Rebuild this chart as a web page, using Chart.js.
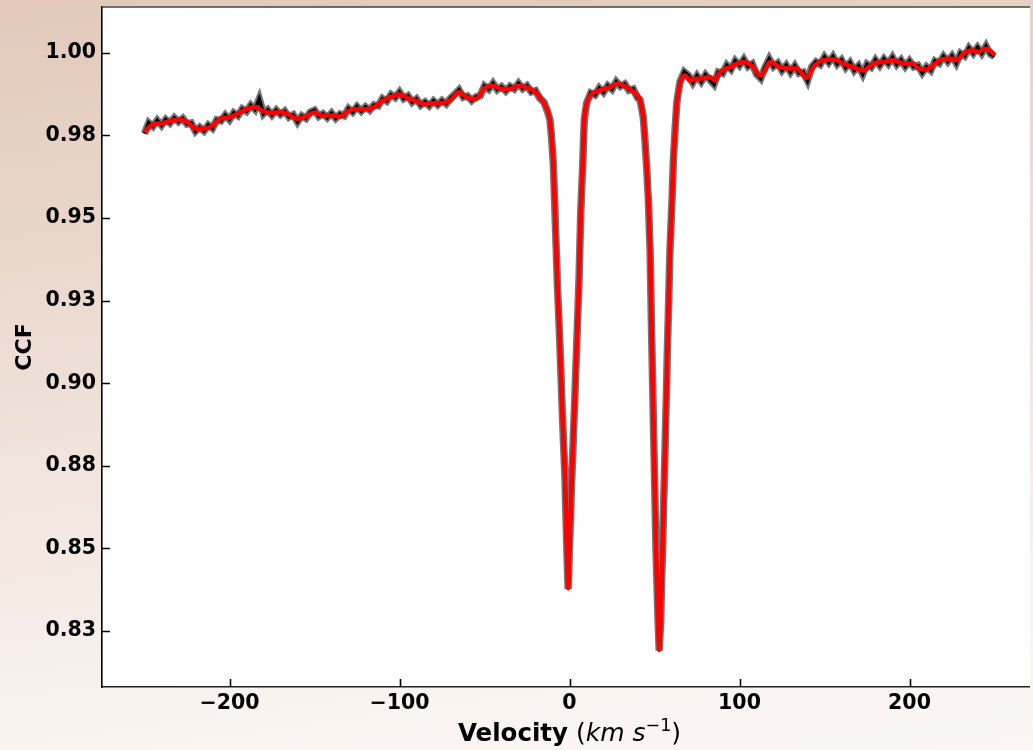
<!DOCTYPE html>
<html>
<head>
<meta charset="utf-8">
<script src="https://cdn.jsdelivr.net/npm/chart.js@4.4.1/dist/chart.umd.min.js"></script>
<style>
	html, body {
		margin: 0;
		padding: 0;
		width: 1033px;
		height: 750px;
		overflow: hidden;
		background: linear-gradient(172deg, #e2c9ba 0%, #ead8cd 30%, #f3e8e1 60%, #faf4f1 85%, #fbf7f5 100%);
	}
	#wrap {
		position: absolute;
		left: 0;
		top: 0;
		width: 1030px;
		height: 750px;
		overflow: hidden;
	}
</style>
</head>
<body>
<div id="wrap"><canvas id="ccf" width="1040" height="750"></canvas></div>
<script>
	'use strict';

	// Axis ticks
	var xTicks = [-200, -100, 0, 100, 200];
	var yTicks = [0.825, 0.85, 0.875, 0.9, 0.925, 0.95, 0.975, 1.0];
	var yTickLabels = ['0.83', '0.85', '0.88', '0.90', '0.93', '0.95', '0.98', '1.00'];

	// Smoothed CCF (red)
	var fitVelocity = [
		-250, -245, -240, -235, -230, -225, -220, -215, -210, -205,
		-200, -195, -190, -185, -180, -175, -170, -165, -160, -155,
		-150, -145, -140, -135, -130, -125, -120, -115, -110, -105,
		-100, -95, -90, -85, -80, -75, -70, -65, -60, -55,
		-50, -45, -40, -35, -30, -25, -20, -17.5, -15, -13,
		-11.5, -10.5, -9.5, -8.5, -7.2, -5.6, -4.2, -2.6, -1.6, -0.8,
		0.0, 1.3, 2.8, 4.2, 5.6, 6.6, 7.8, 8.7, 10.1, 13.1,
		17.9, 23.8, 27.8, 33.6, 37.5, 41.5, 43.4, 44.4, 45.4, 46.4,
		47.4, 48.5, 49.7, 50.9, 52.1, 52.8, 53.6, 54.7, 56.2, 57.6,
		59.1, 60.3, 61.1, 62.1, 63.1, 65.0, 67.9, 70.9, 73.8, 76.8,
		82.6, 85.6, 88.5, 94.4, 98.4, 103.2, 108.1, 112.1, 115.0, 117.9,
		123.8, 129.7, 133.6, 139.5, 143.4, 149.3, 155.2, 161.1, 166.9, 172.8,
		178.7, 184.6, 190.5, 196.4, 202.2, 205.2, 210.1, 214.0, 217.9, 223.8,
		227.8, 231.6, 237.5, 240.5, 244.4, 248.4, 250.0
	];
	var fitCCF = [
		0.9760, 0.9783, 0.9786, 0.9793, 0.9797, 0.9791, 0.9770, 0.9770, 0.9779, 0.9801,
		0.9804, 0.9816, 0.9829, 0.9836, 0.9822, 0.9818, 0.9820, 0.9812, 0.9800, 0.9807,
		0.9819, 0.9809, 0.9810, 0.9807, 0.9824, 0.9829, 0.9829, 0.9835, 0.9854, 0.9866,
		0.9874, 0.9862, 0.9853, 0.9844, 0.9847, 0.9848, 0.9856, 0.9880, 0.9863, 0.9860,
		0.9892, 0.9900, 0.9890, 0.9891, 0.9900, 0.9894, 0.9880, 0.9866, 0.9847, 0.9825,
		0.9795, 0.9740, 0.9664, 0.9514, 0.9311, 0.9110, 0.8909, 0.8707, 0.8505, 0.8380,
		0.8505, 0.8707, 0.8909, 0.9110, 0.9311, 0.9514, 0.9664, 0.9795, 0.9845, 0.9875,
		0.9886, 0.9896, 0.9906, 0.9896, 0.9881, 0.9856, 0.9805, 0.9735, 0.9654, 0.9553,
		0.9402, 0.9100, 0.8797, 0.8495, 0.8283, 0.8193, 0.8283, 0.8495, 0.8797, 0.9100,
		0.9402, 0.9553, 0.9674, 0.9765, 0.9846, 0.9906, 0.9931, 0.9915, 0.9921, 0.9921,
		0.9926, 0.9916, 0.9941, 0.9956, 0.9967, 0.9972, 0.9956, 0.9931, 0.9946, 0.9972,
		0.9956, 0.9952, 0.9952, 0.9924, 0.9956, 0.9977, 0.9979, 0.9967, 0.9956, 0.9946,
		0.9967, 0.9972, 0.9977, 0.9967, 0.9967, 0.9952, 0.9949, 0.9962, 0.9977, 0.9982,
		0.9977, 0.9997, 1.0007, 1.0002, 1.0012, 1.0002, 0.9992
	];

	// Raw CCF (black, noisy)
	var rawVelocity = [
		-250, -247.5, -245, -242.5, -240, -237.5, -235, -232.5, -230, -227.5,
		-225, -222.5, -220, -217.5, -215, -212.5, -210, -207.5, -205, -202.5,
		-200, -197.5, -195, -192.5, -190, -187.5, -185, -182.5, -180, -177.5,
		-175, -172.5, -170, -167.5, -165, -162.5, -160, -157.5, -155, -152.5,
		-150, -147.5, -145, -142.5, -140, -137.5, -135, -132.5, -130, -127.5,
		-125, -122.5, -120, -117.5, -115, -112.5, -110, -107.5, -105, -102.5,
		-100, -97.5, -95, -92.5, -90, -87.5, -85, -82.5, -80, -77.5,
		-75, -72.5, -70, -67.5, -65, -62.5, -60, -57.5, -55, -52.5,
		-50, -47.5, -45, -42.5, -40, -37.5, -35, -32.5, -30, -27.5,
		-25, -22.5, -20, -17.5, -15, -13, -11.5, -10.5, -9.5, -8.5,
		-7.2, -5.6, -4.2, -2.6, -1.6, -0.8, 0.0, 1.3, 2.8, 4.2,
		5.6, 6.6, 7.8, 8.7, 10.1, 12.5, 15, 17.5, 20, 22.5,
		25, 27.5, 30, 32.5, 35, 37.5, 40, 41.5, 43.4, 44.4,
		45.4, 46.4, 47.4, 48.5, 49.7, 50.9, 52.1, 52.8, 53.6, 54.7,
		56.2, 57.6, 59.1, 60.3, 61.1, 62.1, 63.1, 65, 67.5, 70,
		72.5, 75, 77.5, 80, 82.5, 85, 87.5, 90, 92.5, 95,
		97.5, 100, 102.5, 105, 107.5, 110, 112.5, 115, 117.5, 120,
		122.5, 125, 127.5, 130, 132.5, 135, 137.5, 140, 142.5, 145,
		147.5, 150, 152.5, 155, 157.5, 160, 162.5, 165, 167.5, 170,
		172.5, 175, 177.5, 180, 182.5, 185, 187.5, 190, 192.5, 195,
		197.5, 200, 202.5, 205, 207.5, 210, 212.5, 215, 217.5, 220,
		222.5, 225, 227.5, 230, 232.5, 235, 237.5, 240, 242.5, 245,
		247.5, 250
	];
	var rawCCF = [
		0.9755, 0.9788, 0.9777, 0.9795, 0.9780, 0.9798, 0.9787, 0.9803, 0.9791, 0.9801,
		0.9784, 0.9787, 0.9762, 0.9774, 0.9763, 0.9781, 0.9771, 0.9797, 0.9794, 0.9811,
		0.9797, 0.9818, 0.9809, 0.9830, 0.9822, 0.9841, 0.9828, 0.9860, 0.9815, 0.9827,
		0.9811, 0.9826, 0.9813, 0.9823, 0.9805, 0.9812, 0.9790, 0.9809, 0.9801, 0.9820,
		0.9826, 0.9807, 0.9815, 0.9803, 0.9817, 0.9801, 0.9814, 0.9809, 0.9831, 0.9820,
		0.9837, 0.9823, 0.9836, 0.9826, 0.9842, 0.9839, 0.9861, 0.9853, 0.9873, 0.9864,
		0.9881, 0.9861, 0.9869, 0.9850, 0.9860, 0.9841, 0.9851, 0.9839, 0.9854, 0.9842,
		0.9855, 0.9845, 0.9862, 0.9874, 0.9887, 0.9865, 0.9869, 0.9855, 0.9866, 0.9870,
		0.9899, 0.9889, 0.9907, 0.9888, 0.9897, 0.9884, 0.9898, 0.9890, 0.9907, 0.9891,
		0.9900, 0.9881, 0.9885, 0.9862, 0.9850, 0.9823, 0.9797, 0.9741, 0.9664, 0.9514,
		0.9311, 0.9110, 0.8909, 0.8707, 0.8505, 0.8378, 0.8505, 0.8707, 0.8909, 0.9110,
		0.9311, 0.9514, 0.9664, 0.9797, 0.9848, 0.9878, 0.9872, 0.9893, 0.9880, 0.9900,
		0.9889, 0.9912, 0.9898, 0.9905, 0.9886, 0.9890, 0.9864, 0.9857, 0.9805, 0.9735,
		0.9654, 0.9553, 0.9402, 0.9100, 0.8797, 0.8495, 0.8283, 0.8191, 0.8283, 0.8495,
		0.8797, 0.9100, 0.9402, 0.9553, 0.9674, 0.9765, 0.9848, 0.9912, 0.9942, 0.9931,
		0.9909, 0.9930, 0.9912, 0.9933, 0.9918, 0.9904, 0.9941, 0.9937, 0.9962, 0.9949,
		0.9975, 0.9961, 0.9980, 0.9958, 0.9966, 0.9935, 0.9922, 0.9955, 0.9981, 0.9958,
		0.9968, 0.9946, 0.9962, 0.9941, 0.9960, 0.9938, 0.9941, 0.9915, 0.9957, 0.9972,
		0.9964, 0.9987, 0.9970, 0.9988, 0.9965, 0.9978, 0.9955, 0.9970, 0.9946, 0.9960,
		0.9935, 0.9965, 0.9956, 0.9978, 0.9961, 0.9981, 0.9966, 0.9986, 0.9964, 0.9978,
		0.9958, 0.9975, 0.9957, 0.9961, 0.9939, 0.9957, 0.9946, 0.9975, 0.9968, 0.9989,
		0.9973, 0.9990, 0.9968, 0.9998, 0.9990, 1.0014, 0.9998, 1.0016, 0.9998, 1.0020,
		0.9996, 0.9988
	];

	function toPoints(xs, ys) {
		return xs.map(function (x, i) {
			return {x: x, y: ys[i]};
		});
	}

	var FONT = "'DejaVu Sans', 'Liberation Sans', sans-serif";

	// Figure frame: white axes face, inward ticks, top spine, axis titles
	var framePlugin = {
		id: 'frame',
		beforeDraw: function (chart) {
			var ctx = chart.ctx,
				a = chart.chartArea;
			ctx.save();
			ctx.fillStyle = '#ffffff';
			ctx.fillRect(a.left, a.top, a.right - a.left, a.bottom - a.top);
			ctx.restore();
		},
		afterDraw: function (chart) {
			var ctx = chart.ctx,
				a = chart.chartArea,
				xs = chart.scales.x,
				ys = chart.scales.y;

			ctx.save();
			ctx.strokeStyle = '#444';
			ctx.lineWidth = 1.5;
			ctx.beginPath();
			ctx.moveTo(a.left, a.top);
			ctx.lineTo(a.right, a.top);
			ctx.stroke();

			ctx.strokeStyle = '#000';
			ctx.lineWidth = 1.6;
			ctx.beginPath();
			xTicks.forEach(function (v) {
				var px = Math.round(xs.getPixelForValue(v)) + 0.5;
				ctx.moveTo(px, a.bottom);
				ctx.lineTo(px, a.bottom - 8);
			});
			yTicks.forEach(function (v) {
				var py = Math.round(ys.getPixelForValue(v)) + 0.5;
				ctx.moveTo(a.left, py);
				ctx.lineTo(a.left + 8, py);
			});
			ctx.stroke();

			// y title
			ctx.fillStyle = '#000';
			ctx.font = 'bold 22px ' + FONT;
			ctx.textAlign = 'center';
			ctx.textBaseline = 'middle';
			ctx.translate(25, (a.top + a.bottom) / 2);
			ctx.rotate(-Math.PI / 2);
			ctx.fillText('CCF', 0, 0);
			ctx.setTransform(1, 0, 0, 1, 0, 0);

			// x title with mixed styles
			var parts = [
				{t: 'Velocity', f: 'bold 24.5px ' + FONT, dy: 0},
				{t: ' (', f: '25px ' + FONT, dy: 0},
				{t: 'km', f: 'italic 25px ' + FONT, dy: 0},
				{t: ' ', f: '25px ' + FONT, dy: 0},
				{t: 's', f: 'italic 25px ' + FONT, dy: 0},
				{t: '\u22121', f: '17.5px ' + FONT, dy: -10},
				{t: ')', f: '25px ' + FONT, dy: 0}
			], total = 0, cx;

			ctx.textAlign = 'left';
			ctx.textBaseline = 'alphabetic';
			parts.forEach(function (p) {
				ctx.font = p.f;
				p.w = ctx.measureText(p.t).width;
				total += p.w;
			});
			cx = (a.left + a.right) / 2 - total / 2;
			parts.forEach(function (p) {
				ctx.font = p.f;
				ctx.fillText(p.t, cx, 741 + p.dy);
				cx += p.w;
			});
			ctx.restore();
		}
	};

	var chart = new Chart(document.getElementById('ccf'), {
		type: 'line',
		data: {
			datasets: [
				{
					label: 'fit',
					data: toPoints(fitVelocity, fitCCF),
					borderColor: '#ff0000',
					borderWidth: 4.5,
					pointRadius: 0,
					cubicInterpolationMode: 'monotone',
					fill: false
				},
				{
					label: 'ccf',
					data: toPoints(rawVelocity, rawCCF),
					borderColor: '#000000',
					borderWidth: 3.5,
					pointRadius: 0,
					tension: 0,
					fill: false
				},
				{
					label: 'ccf-band',
					data: toPoints(rawVelocity, rawCCF),
					borderColor: 'rgba(60,60,60,0.7)',
					borderWidth: 7.5,
					pointRadius: 0,
					tension: 0,
					fill: false
				}
			]
		},
		options: {
			responsive: false,
			animation: false,
			devicePixelRatio: 1,
			layout: {padding: {left: 0, right: 3, top: 7, bottom: 0}},
			plugins: {
				legend: {display: false},
				tooltip: {enabled: false}
			},
			scales: {
				x: {
					type: 'linear',
					min: -275,
					max: 275,
					grid: {display: false, drawTicks: false},
					border: {display: true, color: '#222', width: 1.6},
					afterBuildTicks: function (scale) {
						scale.ticks = xTicks.map(function (v) { return {value: v}; });
					},
					afterFit: function (scale) {
						scale.height = 63;
						scale.paddingLeft = 0;
						scale.paddingRight = 0;
					},
					ticks: {
						padding: 4,
						color: '#000',
						maxRotation: 0,
						font: {family: FONT, size: 20.5, weight: 'bold'},
						callback: function (v) {
							return v < 0 ? '\u2212' + Math.abs(v) : String(v);
						}
					}
				},
				y: {
					type: 'linear',
					min: 0.8081,
					max: 1.0138,
					grid: {display: false, drawTicks: false},
					border: {display: true, color: '#000', width: 1.6},
					afterBuildTicks: function (scale) {
						scale.ticks = yTicks.map(function (v) { return {value: v}; });
					},
					afterFit: function (scale) {
						scale.width = 102;
						scale.paddingTop = 0;
						scale.paddingBottom = 0;
					},
					ticks: {
						padding: 6,
						color: '#000',
						font: {family: FONT, size: 20.5, weight: 'bold'},
						callback: function (v) {
							var i = yTicks.indexOf(v);
							return i >= 0 ? yTickLabels[i] : '';
						}
					}
				}
			}
		},
		plugins: [framePlugin]
	});
</script>
</body>
</html>
